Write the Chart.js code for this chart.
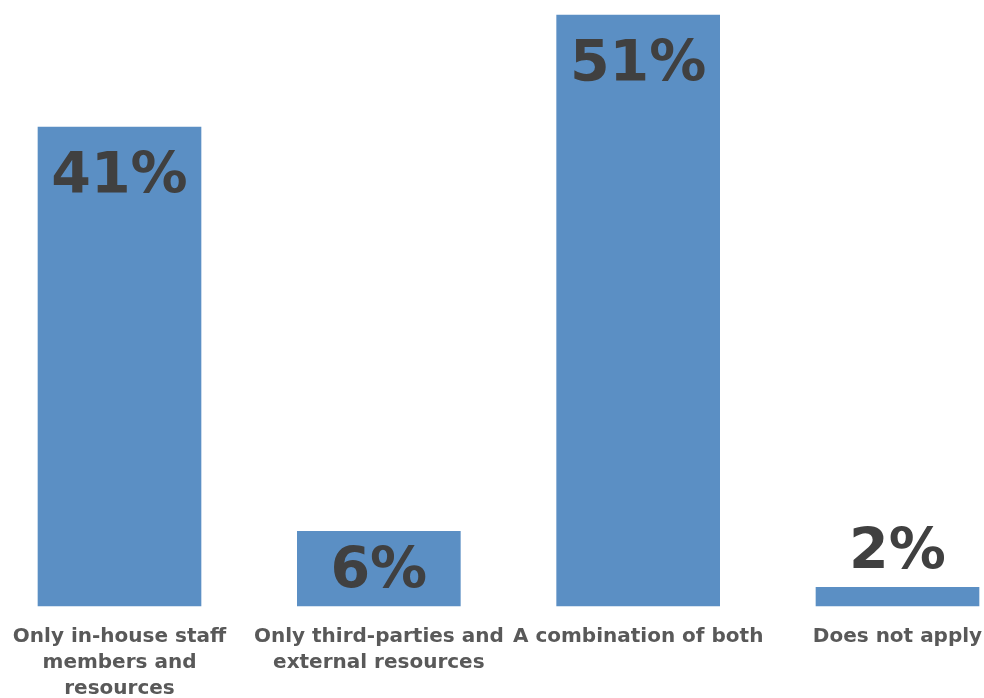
<!DOCTYPE html>
<html>
<head>
<meta charset="utf-8">
<script src="https://cdn.jsdelivr.net/npm/chart.js@4/dist/chart.umd.min.js"></script>
<style>
  html, body { margin: 0; padding: 0; background: #fff; }
  #wrap { width: 984px; height: 698px; }
</style>
</head>
<body>
<div id="wrap"><canvas id="myChart" width="984" height="698"></canvas></div>
<script>
'use strict';

// categories (multi-line labels as drawn under the bars)
let categories = [
  ['Only in-house staff', 'members and', 'resources'],
  ['Only third-parties and', 'external resources'],
  ['A combination of both'],
  ['Does not apply']
];
// share of respondents, %
let shares = [41.1, 6.4, 50.7, 1.6];

let barColor = '#5b8fc4';
let valueColor = '#404040';
let axisColor = '#595959';

// draws "41%" etc. inside the top of each bar, or above it when the bar is tiny
const valueLabels = {
  id: 'valueLabels',
  afterDatasetsDraw(chart) {
    const ctx = chart.ctx;
    const meta = chart.getDatasetMeta(0);
    ctx.save();
    ctx.font = 'bold 57px "DejaVu Sans"';
    ctx.fillStyle = valueColor;
    ctx.textAlign = 'center';
    ctx.textBaseline = 'alphabetic';
    meta.data.forEach((bar, i) => {
      const text = Math.round(shares[i]) + '%';
      const h = bar.base - bar.y;
      let y;
      if (h < 40) {
        y = bar.y - 18;
      } else if (h < 100) {
        y = (bar.y + bar.base) / 2 + 19;
      } else {
        y = bar.y + 66;
      }
      ctx.fillText(text, bar.x, y);
    });
    ctx.restore();
  }
};

const data = {
  labels: categories,
  datasets: [{
    data: shares,
    backgroundColor: barColor,
    borderWidth: 0,
    barThickness: 163,
    clip: false
  }]
};

const config = {
  type: 'bar',
  data: data,
  options: {
    responsive: false,
    animation: false,
    layout: { padding: { left: 119.5, right: 86.5, top: 0, bottom: 0 } },
    plugins: {
      legend: { display: false },
      tooltip: { enabled: false }
    },
    scales: {
      x: {
        offset: false,
        grid: { display: false, drawTicks: false },
        border: { display: false },
        afterFit: s => {
          s.height = 92;
          s.paddingLeft = 0;
          s.paddingRight = 0;
        },
        ticks: {
          autoSkip: false,
          maxRotation: 0,
          padding: 18,
          color: axisColor,
          font: { family: '"DejaVu Sans"', size: 20, weight: 'bold', lineHeight: '26px' }
        }
      },
      y: {
        display: false,
        min: 0,
        max: 52
      }
    }
  },
  plugins: [valueLabels]
};

const myChart = new Chart(document.getElementById('myChart'), config);
</script>
</body>
</html>
